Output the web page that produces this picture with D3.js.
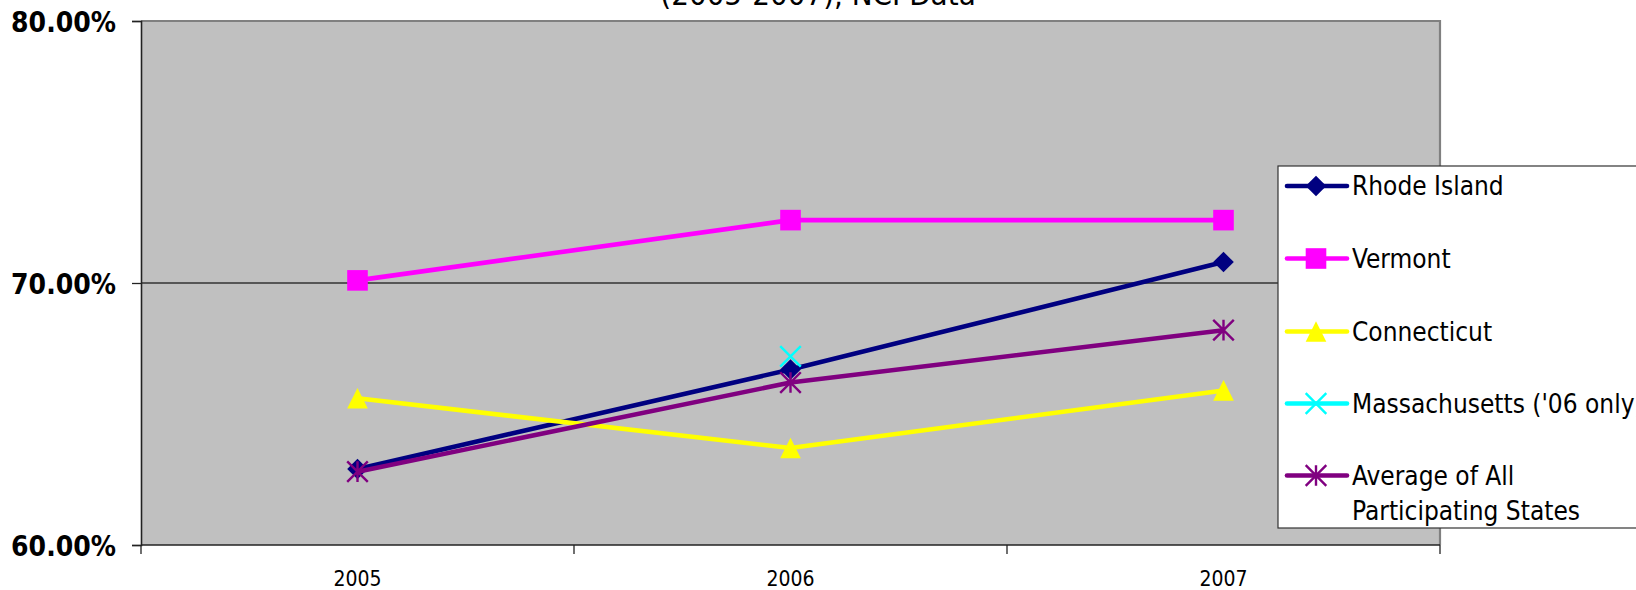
<!DOCTYPE html>
<html>
<head>
<meta charset="utf-8">
<script src="https://cdn.jsdelivr.net/npm/d3@7"></script>
<style>
  html, body { margin: 0; padding: 0; background: #fff; overflow: hidden; }
  svg { display: block; }
  .cond { font-family: 'DejaVu Sans Condensed', 'DejaVu Sans', sans-serif; font-stretch: condensed; }
</style>
</head>
<body>
<svg id="chart" width="1636" height="590"></svg>
<script>
// ---- data ----
const years = ["2005", "2006", "2007"];
const seriesNames = ["Rhode Island", "Vermont", "Connecticut", "Massachusetts ('06 only)", "Average of All Participating States"];
const rhodeIsland   = [62.9, 66.7, 70.8];
const vermont       = [70.1, 72.4, 72.4];
const connecticut   = [65.6, 63.7, 65.9];
const massachusetts = [null, 67.2, null];
const average       = [62.8, 66.2, 68.2];
const yTicks = [60, 70, 80];
const titleLine = "(2005-2007), NCI Data";

const colors  = ["#000080", "#FF00FF", "#FFFF00", "#00FFFF", "#800080"];
const markers = ["diamond", "square", "triangle", "x", "star"];
const values  = [rhodeIsland, vermont, connecticut, massachusetts, average];

// ---- layout ----
const svg = d3.select("#chart");
const L = 141, R = 1440, T = 21, B = 545;

const x = d3.scaleBand().domain(years).range([L, R]);
const y = d3.scaleLinear().domain([60, 80]).range([B, T]);

// plot area
svg.append("rect").attr("x", L).attr("y", T).attr("width", R - L).attr("height", B - T)
  .attr("fill", "#C0C0C0");

// gridline at 70
svg.append("g").selectAll("line").data(yTicks.filter(v => v > 60 && v < 80)).join("line")
  .attr("x1", L).attr("x2", R).attr("y1", d => y(d)).attr("y2", d => y(d))
  .attr("stroke", "#333").attr("stroke-width", 1.4);

// top & right border (gray)
svg.append("path").attr("d", `M${L},${T}H${R}V${B}`).attr("fill", "none")
  .attr("stroke", "#808080").attr("stroke-width", 2.2);

// y axis
const yAxis = d3.axisLeft(y).tickValues(yTicks).tickSize(9).tickPadding(16)
  .tickFormat(d => d3.format(".2f")(d) + "%");
const gy = svg.append("g").attr("transform", `translate(${L},0)`).call(yAxis);
gy.select(".domain").attr("stroke", "#222").attr("stroke-width", 1.6);
gy.selectAll(".tick line").attr("stroke", "#222").attr("stroke-width", 1.3);
gy.selectAll(".tick text").attr("class", "cond").attr("font-size", 28).attr("font-weight", "bold")
  .attr("fill", "#000").attr("x", -25).attr("dy", "0.36em");

// x axis with ticks at category boundaries
const gx = svg.append("g").attr("transform", `translate(0,${B})`);
gx.append("line").attr("x1", L).attr("x2", R).attr("y1", 0).attr("y2", 0)
  .attr("stroke", "#222").attr("stroke-width", 1.6);
const bounds = years.map(d => x(d)).concat([x(years[years.length - 1]) + x.bandwidth()]);
gx.selectAll("line.tk").data(bounds).join("line").attr("class", "tk")
  .attr("x1", d => d).attr("x2", d => d).attr("y1", 0).attr("y2", 9)
  .attr("stroke", "#222").attr("stroke-width", 1.3);
gx.selectAll("text").data(years).join("text").attr("class", "cond")
  .attr("x", d => x(d) + x.bandwidth() / 2).attr("y", 41)
  .attr("text-anchor", "middle").attr("font-size", 21).attr("fill", "#000").text(d => d);

// title (second line, top cut off)
svg.append("text").attr("class", "cond").attr("x", 818).attr("y", 5)
  .attr("text-anchor", "middle").attr("font-size", 31).attr("fill", "#000").text(titleLine);

// marker drawing
function drawMarker(g, type, color) {
  const s = 10.3;
  if (type === "diamond") {
    g.append("path").attr("d", `M0,${-s}L${s},0L0,${s}L${-s},0Z`).attr("fill", color);
  } else if (type === "square") {
    g.append("rect").attr("x", -s).attr("y", -s).attr("width", 2 * s).attr("height", 2 * s).attr("fill", color);
  } else if (type === "triangle") {
    g.append("path").attr("d", `M0,${-s}L${s},${s}L${-s},${s}Z`).attr("fill", color);
  } else if (type === "x") {
    g.append("path").attr("d", `M${-s},${-s}L${s},${s}M${s},${-s}L${-s},${s}`)
      .attr("stroke", color).attr("stroke-width", 2.4).attr("fill", "none");
  } else if (type === "star") {
    g.append("path").attr("d", `M${-s},${-s}L${s},${s}M${s},${-s}L${-s},${s}M0,${-s}L0,${s}`)
      .attr("stroke", color).attr("stroke-width", 2.4).attr("fill", "none");
  }
}

// series
const line = d3.line().defined(d => d.v != null).x(d => x(d.yr) + x.bandwidth() / 2).y(d => y(d.v));
values.forEach((vals, i) => {
  const pts = years.map((yr, j) => ({ yr, v: vals[j] }));
  const g = svg.append("g");
  g.append("path").datum(pts).attr("d", line).attr("fill", "none")
    .attr("stroke", colors[i]).attr("stroke-width", 4.6).attr("stroke-linejoin", "round");
  pts.filter(d => d.v != null).forEach(d => {
    const mg = g.append("g").attr("transform", `translate(${x(d.yr) + x.bandwidth() / 2},${y(d.v)})`);
    drawMarker(mg, markers[i], colors[i]);
  });
});

// legend
const lg = svg.append("g").attr("transform", "translate(1278,166)");
lg.append("rect").attr("x", 0).attr("y", 0).attr("width", 400).attr("height", 362)
  .attr("fill", "#fff").attr("stroke", "#333").attr("stroke-width", 1.2);
const rowY = [20, 92.5, 165.5, 237.5, 309.5];
seriesNames.forEach((name, i) => {
  const row = lg.append("g").attr("transform", `translate(0,${rowY[i]})`);
  row.append("line").attr("x1", 9).attr("x2", 69).attr("y1", 0).attr("y2", 0)
    .attr("stroke", colors[i]).attr("stroke-width", 4.6).attr("stroke-linecap", "round");
  const mg = row.append("g").attr("transform", "translate(38,0)");
  drawMarker(mg, markers[i], colors[i]);
  const parts = i === 4 ? ["Average of All", "Participating States"] : [name];
  parts.forEach((p, k) => {
    row.append("text").attr("class", "cond").attr("x", 74).attr("y", 9 + k * 35)
      .attr("font-size", 26).attr("fill", "#000").text(p);
  });
});
</script>
</body>
</html>
